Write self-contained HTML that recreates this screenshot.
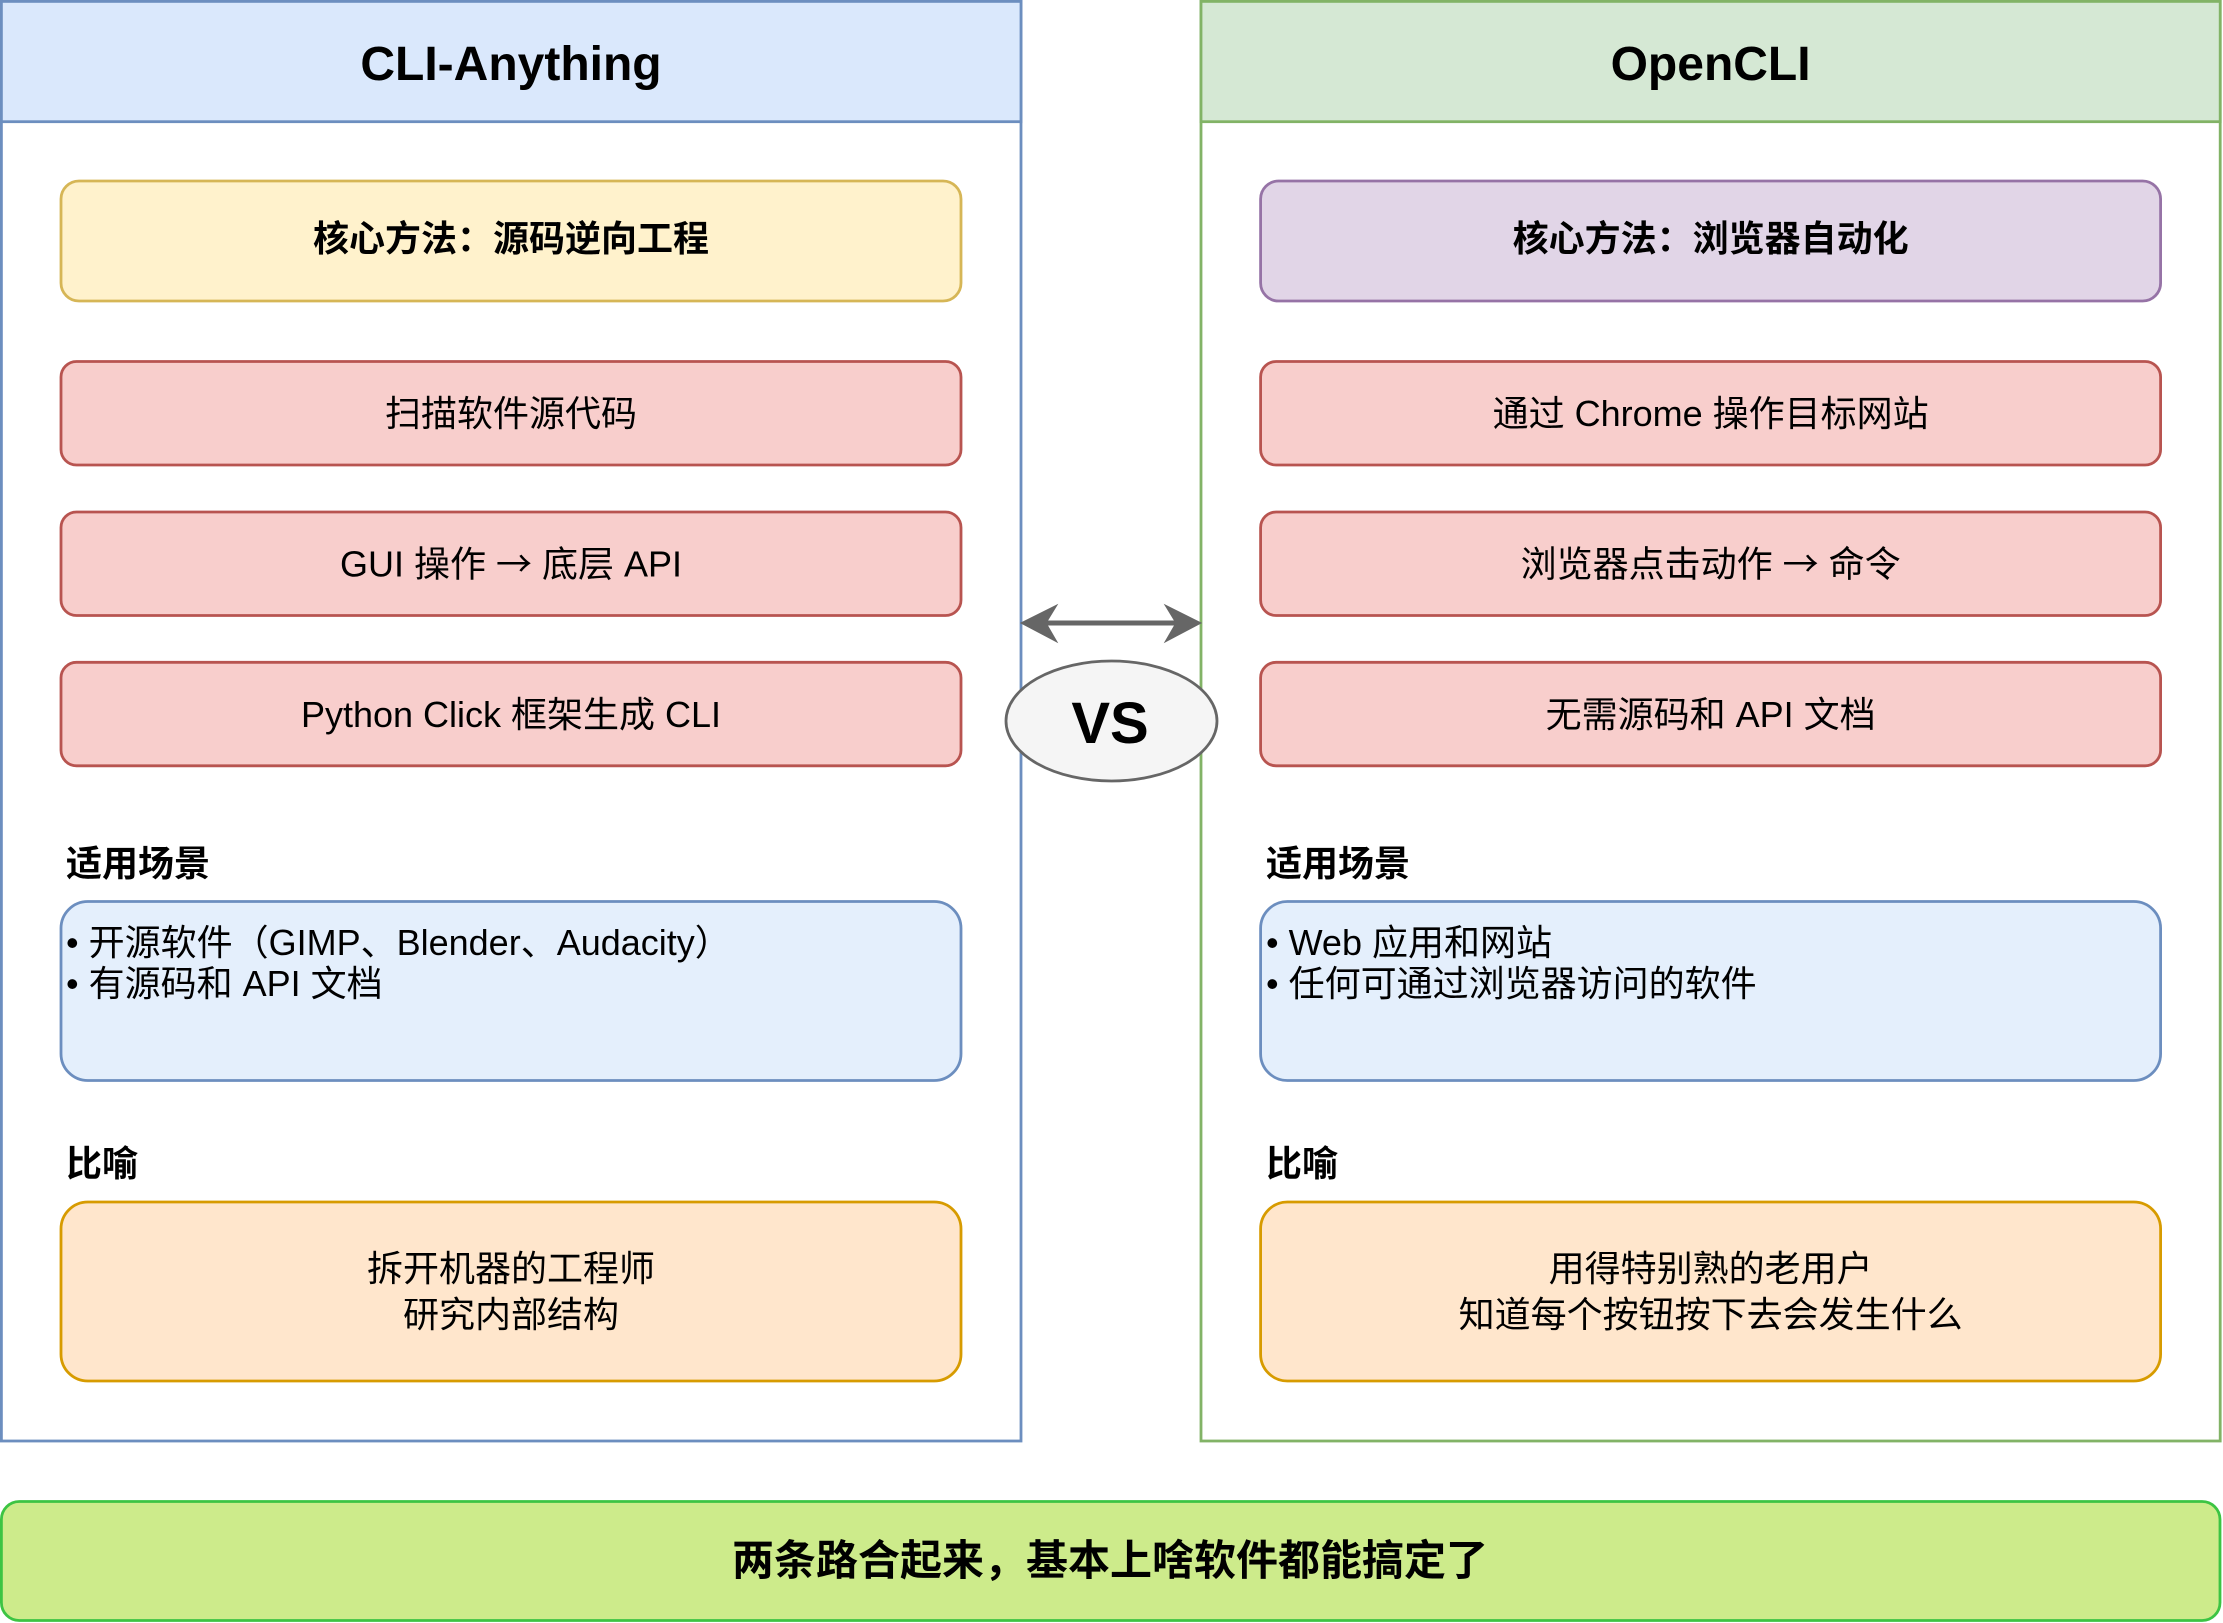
<!DOCTYPE html>
<html>
<head>
<meta charset="utf-8">
<style>
  html, body { margin: 0; padding: 0; background: #ffffff; }
  body { width: 2223px; height: 1623px; overflow: hidden; }
  svg { display: block; }
  text { font-family: "Liberation Sans", "Noto Sans CJK SC", "WenQuanYi Zen Hei", sans-serif; fill: #000000; }
  .title { font-size: 48px; font-weight: bold; }
  .head { font-size: 36px; font-weight: bold; }
  .foot { font-size: 42px; font-weight: bold; }
  .body { font-size: 36px; }
  .label { font-size: 36px; font-weight: bold; }
  .list { font-size: 36px; }
  .arr { font-family: "Noto Sans CJK SC", sans-serif; }
</style>
</head>
<body>
<svg width="2223" height="1623" viewBox="0 0 2223 1623" xmlns="http://www.w3.org/2000/svg">
  <!-- LEFT PANEL -->
  <rect x="1.4" y="1.4" width="1019.6" height="1439.6" fill="#ffffff" stroke="#6c8ebf" stroke-width="2.8"/>
  <rect x="1.4" y="1.4" width="1019.6" height="120.3" fill="#dae8fc" stroke="#6c8ebf" stroke-width="2.8"/>
  <text class="title" x="511" y="80" text-anchor="middle">CLI-Anything</text>

  <rect x="61" y="181" width="900" height="120" rx="18" ry="18" fill="#fff2cc" stroke="#d6b656" stroke-width="2.8"/>
  <text class="head" x="511" y="251" text-anchor="middle">核心方法：源码逆向工程</text>

  <rect x="61" y="361.5" width="900" height="103.5" rx="15.5" ry="15.5" fill="#f8cecc" stroke="#b85450" stroke-width="2.8"/>
  <text class="body" x="511" y="426" text-anchor="middle">扫描软件源代码</text>

  <rect x="61" y="512" width="900" height="103.5" rx="15.5" ry="15.5" fill="#f8cecc" stroke="#b85450" stroke-width="2.8"/>
  <text class="body" x="511" y="576.5" text-anchor="middle">GUI 操作 <tspan class="arr">→</tspan> 底层 API</text>

  <rect x="61" y="662.3" width="900" height="103.5" rx="15.5" ry="15.5" fill="#f8cecc" stroke="#b85450" stroke-width="2.8"/>
  <text class="body" x="511" y="727" text-anchor="middle">Python Click 框架生成 CLI</text>

  <text class="label" x="66" y="876">适用场景</text>
  <rect x="61" y="901.5" width="900" height="179" rx="26.8" ry="26.8" fill="#e4effc" stroke="#6c8ebf" stroke-width="2.8"/>
  <text class="list" x="66" y="955">• 开源软件（GIMP、Blender、Audacity）</text>
  <text class="list" x="66" y="996">• 有源码和 API 文档</text>

  <text class="label" x="66" y="1176">比喻</text>
  <rect x="61" y="1202" width="900" height="179" rx="26.8" ry="26.8" fill="#ffe6cc" stroke="#d79b00" stroke-width="2.8"/>
  <text class="body" x="511" y="1281" text-anchor="middle">拆开机器的工程师</text>
  <text class="body" x="511" y="1327" text-anchor="middle">研究内部结构</text>

  <!-- RIGHT PANEL -->
  <rect x="1201" y="1.4" width="1019.2" height="1439.6" fill="#ffffff" stroke="#82b366" stroke-width="2.8"/>
  <rect x="1201" y="1.4" width="1019.2" height="120.3" fill="#d5e8d4" stroke="#82b366" stroke-width="2.8"/>
  <text class="title" x="1710.6" y="80" text-anchor="middle">OpenCLI</text>

  <rect x="1260.6" y="181" width="900" height="120" rx="18" ry="18" fill="#e1d5e7" stroke="#9673a6" stroke-width="2.8"/>
  <text class="head" x="1710.6" y="251" text-anchor="middle">核心方法：浏览器自动化</text>

  <rect x="1260.6" y="361.5" width="900" height="103.5" rx="15.5" ry="15.5" fill="#f8cecc" stroke="#b85450" stroke-width="2.8"/>
  <text class="body" x="1710.6" y="426" text-anchor="middle">通过 Chrome 操作目标网站</text>

  <rect x="1260.6" y="512" width="900" height="103.5" rx="15.5" ry="15.5" fill="#f8cecc" stroke="#b85450" stroke-width="2.8"/>
  <text class="body" x="1710.6" y="576.5" text-anchor="middle">浏览器点击动作 <tspan class="arr">→</tspan> 命令</text>

  <rect x="1260.6" y="662.3" width="900" height="103.5" rx="15.5" ry="15.5" fill="#f8cecc" stroke="#b85450" stroke-width="2.8"/>
  <text class="body" x="1710.6" y="727" text-anchor="middle">无需源码和 API 文档</text>

  <text class="label" x="1266" y="876">适用场景</text>
  <rect x="1260.6" y="901.5" width="900" height="179" rx="26.8" ry="26.8" fill="#e4effc" stroke="#6c8ebf" stroke-width="2.8"/>
  <text class="list" x="1266" y="955">• Web 应用和网站</text>
  <text class="list" x="1266" y="996">• 任何可通过浏览器访问的软件</text>

  <text class="label" x="1266" y="1176">比喻</text>
  <rect x="1260.6" y="1202" width="900" height="179" rx="26.8" ry="26.8" fill="#ffe6cc" stroke="#d79b00" stroke-width="2.8"/>
  <text class="body" x="1710.6" y="1281" text-anchor="middle">用得特别熟的老用户</text>
  <text class="body" x="1710.6" y="1327" text-anchor="middle">知道每个按钮按下去会发生什么</text>

  <!-- ARROW -->
  <line x1="1044" y1="623" x2="1178" y2="623" stroke="#666666" stroke-width="5"/>
  <polygon points="1021,623 1057,605 1046,623 1057,642" fill="#666666" stroke="#666666" stroke-width="1"/>
  <polygon points="1201,623 1165,605 1176,623 1165,642" fill="#666666" stroke="#666666" stroke-width="1"/>

  <!-- VS ELLIPSE -->
  <ellipse cx="1111.5" cy="721" rx="105.5" ry="60" fill="#f5f5f5" stroke="#666666" stroke-width="2.8"/>
  <text x="1110" y="743" text-anchor="middle" style="font-size:58px;font-weight:bold;">VS</text>

  <!-- BOTTOM BAR -->
  <rect x="1.4" y="1501.5" width="2218.6" height="119" rx="17.9" ry="17.9" fill="#cdeb8b" stroke="#3cc443" stroke-width="2.8"/>
  <text class="foot" x="1110" y="1575" text-anchor="middle">两条路合起来，基本上啥软件都能搞定了</text>
</svg>
</body>
</html>
